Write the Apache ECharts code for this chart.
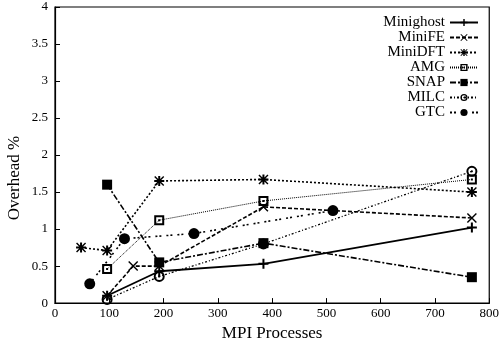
<!DOCTYPE html>
<html>
<head>
<meta charset="utf-8">
<script src="https://cdn.jsdelivr.net/npm/echarts@6/dist/echarts.min.js"></script>
<style>
  html, body { margin: 0; padding: 0; background: #fff; }
  #box { width: 502px; height: 347px; }
</style>
</head>
<body>
<div id="box"></div>
<script>
// data (x = MPI processes, y = overhead %)
const seriesNames = ["Minighost", "MiniFE", "MiniDFT", "AMG", "SNAP", "MILC", "GTC"];

const minighostX = [96, 192, 384, 768];
const minighostY = [0.1, 0.43, 0.53, 1.02];

const minifeX = [96, 144, 192, 384, 768];
const minifeY = [0.1, 0.5, 0.5, 1.3, 1.15];

const minidftX = [48, 96, 192, 384, 768];
const minidftY = [0.75, 0.71, 1.65, 1.67, 1.5];

const amgX = [96, 192, 384, 768];
const amgY = [0.46, 1.12, 1.38, 1.67];

const snapX = [96, 192, 384, 768];
const snapY = [1.6, 0.55, 0.81, 0.35];

const milcX = [96, 192, 384, 768];
const milcY = [0.05, 0.36, 0.8, 1.78];

const gtcX = [64, 128, 256, 512];
const gtcY = [0.26, 0.87, 0.94, 1.25];

const xTicks = [0, 100, 200, 300, 400, 500, 600, 700, 800];
const yTicks = [0, 0.5, 1, 1.5, 2, 2.5, 3, 3.5, 4];

// marker shapes
const plusPath = "path://M4,0 L6,0 L6,10 L4,10 Z M0,4 L10,4 L10,6 L0,6 Z";
const crossPath = "path://M0,1 L1,0 L10,9 L9,10 Z M9,0 L10,1 L1,10 L0,9 Z";
const starPath = "path://M0,1 L1,0 L10,9 L9,10 Z M9,0 L10,1 L1,10 L0,9 Z M4,0 L6,0 L6,10 L4,10 Z M0,4 L10,4 L10,6 L0,6 Z";
const boxPath = "path://M0,0 L10,0 L10,10 L0,10 Z M2,2 L2,8 L8,8 L8,2 Z M4,4 L6,4 L6,6 L4,6 Z";
const ringPath = "path://M5,0 A5,5 0 1,1 5,10 A5,5 0 1,1 5,0 Z M5,1.8 A3.2,3.2 0 1,0 5,8.2 A3.2,3.2 0 1,0 5,1.8 Z M5,4 A1,1 0 1,1 5,6 A1,1 0 1,1 5,4 Z";

function pairs(xs, ys) {
  return xs.map(function (x, i) { return [x, ys[i]]; });
}

const font = "Liberation Serif";

function mkSeries(name, xs, ys, symbol, size, dash, width) {
  return {
    name: name,
    type: "line",
    data: pairs(xs, ys),
    symbol: symbol,
    symbolSize: size,
    showAllSymbol: true,
    animation: false,
    lineStyle: { color: "#000", width: width, type: dash },
    itemStyle: { color: "#000", borderWidth: 0 },
    emphasis: { disabled: true },
  };
}

var myChart = echarts.init(document.getElementById("box"));
myChart.setOption({
  backgroundColor: "#fff",
  animation: false,
  textStyle: { fontFamily: font },
  grid: {
    left: 55, right: 12, top: 7, bottom: 34,
    show: true, borderColor: "#000", borderWidth: 1.2,
  },
  legend: {
    orient: "vertical",
    right: 18,
    top: 10,
    align: "right",
    itemWidth: 28,
    itemHeight: 9,
    itemGap: 0,
    textStyle: { fontFamily: font, fontSize: 15, color: "#000", lineHeight: 14 },
    data: seriesNames,
  },
  xAxis: {
    type: "value",
    min: 0, max: 800, interval: 100,
    name: "MPI Processes",
    nameLocation: "middle",
    nameGap: 14,
    nameTextStyle: { fontFamily: font, fontSize: 17, color: "#000" },
    axisLine: { lineStyle: { color: "#000", width: 1.2 } },
    axisTick: { inside: true, length: 5, lineStyle: { color: "#000" } },
    axisLabel: { fontFamily: font, fontSize: 13, color: "#000", margin: 4 },
    splitLine: { show: false },
  },
  yAxis: {
    type: "value",
    min: 0, max: 4, interval: 0.5,
    axisLine: { show: true, lineStyle: { color: "#000", width: 1.2 } },
    axisTick: { show: true, inside: true, length: 5, lineStyle: { color: "#000" } },
    axisLabel: { fontFamily: font, fontSize: 13, color: "#000", margin: 7 },
    splitLine: { show: false },
  },
  graphic: [
    {
      type: "text",
      x: 15, y: 178,
      rotation: Math.PI / 2,
      style: {
        text: "Overhead %",
        font: "17px " + font,
        fill: "#000",
        textAlign: "center",
        textVerticalAlign: "middle",
      },
    },
  ],
  series: [
    mkSeries("Minighost", minighostX, minighostY, plusPath, 10, "solid", 1.8),
    mkSeries("MiniFE", minifeX, minifeY, crossPath, 10, [4, 2], 1.6),
    mkSeries("MiniDFT", minidftX, minidftY, starPath, 10, [2, 2], 1.6),
    mkSeries("AMG", amgX, amgY, boxPath, 10, [1, 1], 1),
    mkSeries("SNAP", snapX, snapY, "rect", 10, [6, 2, 2, 2], 1.6),
    mkSeries("MILC", milcX, milcY, ringPath, 11, [2, 2, 1, 2], 1.3),
    mkSeries("GTC", gtcX, gtcY, "circle", 11, [2, 2, 2, 5], 1.6),
  ],
});
</script>
</body>
</html>
